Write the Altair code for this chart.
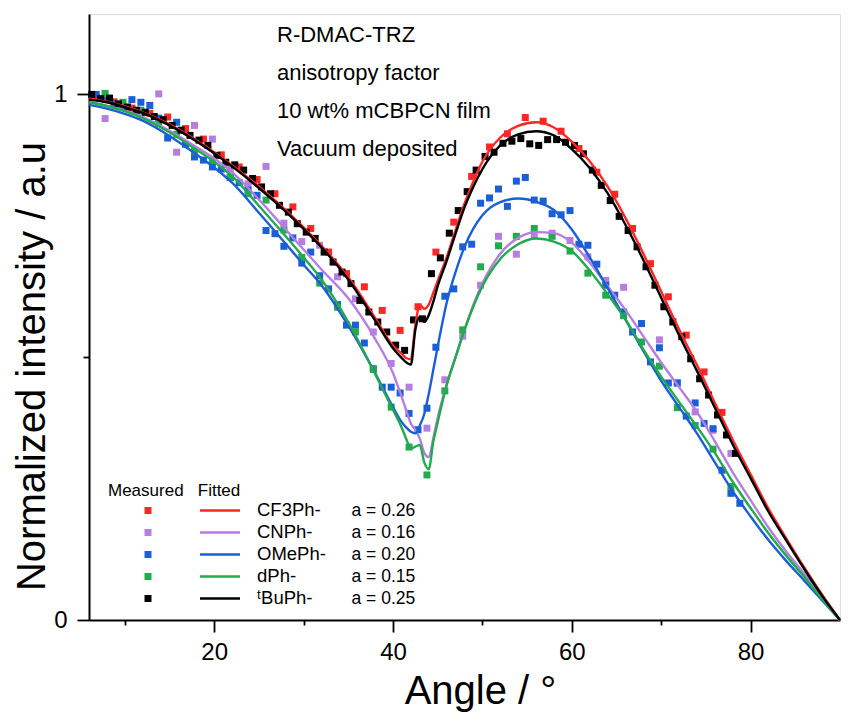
import altair as alt
import pandas as pd

FONT = "Liberation Sans, Arial, DejaVu Sans, sans-serif"

SERIES = ["CF3Ph-", "CNPh-", "OMePh-", "dPh-", "\u1d57BuPh-"]
A_LABELS = ["a = 0.26", "a = 0.16", "a = 0.20", "a = 0.15", "a = 0.25"]
COLORS = ["#FF2626", "#B57EE0", "#1A5FD8", "#22AA4C", "#000000"]

NOTES = ["R-DMAC-TRZ", "anisotropy factor", "10 wt% mCBPCN film", "Vacuum deposited"]

# ---- measured data ----
RED_X = [6.8, 8.8, 10.8, 12.8, 14.8, 16.8, 18.8, 20.8, 22.8, 24.8, 26.8, 28.8,
         30.8, 32.8, 34.8, 36.8, 38.8, 40.8, 42.8, 44.8, 46.8, 48.8, 50.8, 52.8,
         54.8, 56.8, 58.8, 60.8, 62.8, 64.8, 66.8, 68.8, 70.8, 72.8, 74.8, 76.8]
RED_Y = [0.995, 0.986, 0.974, 0.964, 0.957, 0.935, 0.915, 0.885, 0.862, 0.838, 0.811, 0.786,
         0.745, 0.700, 0.659, 0.634, 0.589, 0.551, 0.596, 0.700, 0.757, 0.844, 0.900, 0.925,
         0.956, 0.949, 0.930, 0.897, 0.852, 0.810, 0.745, 0.678, 0.615, 0.542, 0.472, 0.395]

PURPLE_X = [7.8, 9.8, 11.8, 13.8, 15.8, 17.8, 19.8, 21.8, 23.8, 25.8, 27.8, 29.8,
            31.8, 33.8, 35.8, 37.8, 39.8, 41.8, 43.8, 45.8, 47.8, 49.8, 51.8, 53.8,
            55.8, 57.8, 59.8, 61.8, 63.8, 65.8, 67.8, 69.8, 71.8, 73.8, 75.8, 77.8]
PURPLE_Y = [0.954, 0.975, 0.963, 1.001, 0.890, 0.941, 0.915, 0.858, 0.830, 0.863, 0.755, 0.720,
            0.713, 0.653, 0.611, 0.548, 0.488, 0.443, 0.365, 0.457, 0.540, 0.637, 0.730, 0.696,
            0.733, 0.736, 0.722, 0.691, 0.646, 0.633, 0.564, 0.533, 0.451, 0.396, 0.361, 0.317]

BLUE_X = [6.8, 7.8, 8.8, 9.8, 10.8, 11.8, 12.8, 13.8, 14.8, 15.8, 16.8, 17.8, 18.8, 19.8,
          20.8, 21.8, 22.8, 23.8, 24.8, 25.8, 26.8, 27.8, 28.8, 29.8, 30.8, 31.8, 32.8,
          33.8, 34.8, 35.8, 36.8, 37.8, 38.8, 39.8, 40.8, 41.8, 42.8, 43.8, 44.8, 45.8,
          46.8, 47.8, 48.8, 49.8, 50.8, 51.8, 52.8, 53.8, 54.8, 55.8, 56.8, 57.8, 58.8,
          59.8, 60.8, 61.8, 62.8, 63.8, 64.8, 65.8, 66.8, 67.8, 68.8, 69.8, 70.8, 71.8,
          72.8, 73.8, 74.8, 75.8, 76.8, 77.8, 78.8]
BLUE_Y = [1.000, 0.990, 0.982, 0.975, 0.990, 0.985, 0.979, 0.955, 0.917, 0.947, 0.905, 0.881,
          0.875, 0.862, 0.858, 0.842, 0.832, 0.818, 0.808, 0.741, 0.735, 0.711, 0.727, 0.679,
          0.700, 0.655, 0.630, 0.600, 0.561, 0.561, 0.527, 0.478, 0.443, 0.443, 0.432, 0.393,
          0.362, 0.403, 0.519, 0.616, 0.630, 0.710, 0.715, 0.793, 0.803, 0.820, 0.787, 0.835,
          0.842, 0.799, 0.797, 0.773, 0.771, 0.779, 0.715, 0.713, 0.677, 0.637, 0.618, 0.586,
          0.548, 0.564, 0.491, 0.518, 0.451, 0.451, 0.388, 0.413, 0.374, 0.364, 0.285, 0.241,
          0.222]

GREEN_X = [7.8, 9.8, 11.8, 13.8, 15.8, 17.8, 19.8, 21.8, 23.8, 25.8, 27.8, 29.8,
           31.8, 33.8, 35.8, 37.8, 39.8, 41.8, 43.8, 45.8, 47.8, 49.8, 51.8, 53.8,
           55.8, 57.8, 59.8, 61.8, 63.8, 65.8, 67.8, 69.8, 71.8, 73.8, 75.8, 77.8]
GREEN_Y = [1.002, 0.985, 0.970, 0.945, 0.924, 0.892, 0.874, 0.843, 0.811, 0.799, 0.742, 0.690,
           0.641, 0.595, 0.548, 0.477, 0.405, 0.329, 0.276, 0.436, 0.552, 0.672, 0.712, 0.730,
           0.745, 0.730, 0.702, 0.660, 0.618, 0.579, 0.529, 0.483, 0.404, 0.370, 0.325, 0.254]

BLACK_X = [6.3, 7.3, 8.3, 9.3, 10.3, 11.3, 12.3, 13.3, 14.3, 15.3, 16.3, 17.3, 18.3, 19.3,
           20.3, 21.3, 22.3, 23.3, 24.3, 25.3, 26.3, 27.3, 28.3, 29.3, 30.3, 31.3, 32.3,
           33.3, 34.3, 35.3, 36.3, 37.3, 38.3, 39.3, 40.3, 41.3, 42.3, 43.3, 44.3, 45.3,
           46.3, 47.3, 48.3, 49.3, 50.3, 51.3, 52.3, 53.3, 54.3, 55.3, 56.3, 57.3, 58.3,
           59.3, 60.3, 61.3, 62.3, 63.3, 64.3, 65.3, 66.3, 67.3, 68.3, 69.3, 70.3, 71.3,
           72.3, 73.3, 74.3, 75.3, 76.3, 77.3, 78.3]
BLACK_Y = [1.000, 0.992, 0.993, 0.982, 0.976, 0.970, 0.966, 0.958, 0.952, 0.941, 0.932, 0.922,
           0.913, 0.903, 0.884, 0.871, 0.866, 0.856, 0.840, 0.824, 0.811, 0.789, 0.776, 0.754,
           0.738, 0.726, 0.700, 0.681, 0.662, 0.640, 0.608, 0.586, 0.567, 0.548, 0.523, 0.513,
           0.571, 0.573, 0.659, 0.689, 0.736, 0.779, 0.815, 0.856, 0.882, 0.890, 0.907, 0.911,
           0.916, 0.906, 0.903, 0.914, 0.914, 0.909, 0.903, 0.887, 0.856, 0.827, 0.798, 0.768,
           0.741, 0.710, 0.672, 0.637, 0.596, 0.567, 0.539, 0.497, 0.459, 0.428, 0.390, 0.352,
           0.317]

# ---- fitted curves ----
FIT_X = [6, 8, 10, 12, 15, 18, 20, 22, 25, 28, 30, 32, 35, 38, 40, 41, 41.5, 42, 42.5, 43,
         43.5, 44, 44.5, 45, 46, 47, 48, 49, 50, 52, 54, 56, 58, 60, 62, 64, 66, 68, 70, 72,
         74, 76, 78, 80, 82, 84, 86, 88, 90]
FIT_RED = [0.992, 0.986, 0.977, 0.966, 0.943, 0.913, 0.890, 0.865, 0.825, 0.780, 0.747, 0.712,
           0.652, 0.575, 0.522, 0.506, 0.498, 0.496, 0.560, 0.600, 0.592, 0.600, 0.622, 0.645,
           0.690, 0.742, 0.792, 0.835, 0.872, 0.918, 0.940, 0.947, 0.937, 0.910, 0.873, 0.825,
           0.765, 0.697, 0.625, 0.553, 0.485, 0.413, 0.343, 0.277, 0.212, 0.155, 0.100, 0.048,
           0.000]
FIT_PURPLE = [0.985, 0.978, 0.969, 0.957, 0.931, 0.900, 0.878, 0.852, 0.800, 0.743, 0.705, 0.667,
              0.612, 0.535, 0.470, 0.423, 0.398, 0.374, 0.362, 0.345, 0.318, 0.310, 0.345, 0.385,
              0.447, 0.500, 0.552, 0.600, 0.640, 0.697, 0.727, 0.738, 0.736, 0.718, 0.680, 0.635,
              0.590, 0.540, 0.490, 0.443, 0.396, 0.340, 0.281, 0.228, 0.176, 0.130, 0.088, 0.043,
              0.000]
FIT_BLUE = [0.980, 0.973, 0.963, 0.950, 0.921, 0.886, 0.861, 0.832, 0.775, 0.716, 0.676, 0.637,
            0.560, 0.470, 0.405, 0.376, 0.366, 0.358, 0.355, 0.370, 0.392, 0.430, 0.475, 0.520,
            0.603, 0.662, 0.710, 0.745, 0.770, 0.795, 0.802, 0.796, 0.780, 0.743, 0.690, 0.632,
            0.572, 0.512, 0.455, 0.405, 0.355, 0.300, 0.245, 0.197, 0.152, 0.112, 0.075, 0.037,
            0.000]
FIT_GREEN = [0.985, 0.978, 0.968, 0.955, 0.928, 0.895, 0.872, 0.845, 0.788, 0.730, 0.690, 0.648,
             0.567, 0.468, 0.400, 0.365, 0.344, 0.326, 0.330, 0.333, 0.300, 0.287, 0.338, 0.376,
             0.447, 0.500, 0.552, 0.597, 0.635, 0.687, 0.715, 0.726, 0.720, 0.702, 0.665, 0.620,
             0.572, 0.515, 0.463, 0.415, 0.368, 0.318, 0.263, 0.213, 0.165, 0.122, 0.082, 0.040,
             0.000]
FIT_BLACK = [0.990, 0.985, 0.976, 0.965, 0.941, 0.911, 0.888, 0.863, 0.822, 0.777, 0.744, 0.709,
             0.648, 0.570, 0.517, 0.498, 0.490, 0.486, 0.552, 0.577, 0.567, 0.580, 0.605, 0.635,
             0.683, 0.735, 0.785, 0.825, 0.858, 0.903, 0.924, 0.930, 0.922, 0.896, 0.860, 0.812,
             0.752, 0.685, 0.613, 0.542, 0.474, 0.404, 0.334, 0.270, 0.206, 0.151, 0.097, 0.046,
             0.000]

MEAS = [(RED_X, RED_Y), (PURPLE_X, PURPLE_Y), (BLUE_X, BLUE_Y), (GREEN_X, GREEN_Y), (BLACK_X, BLACK_Y)]
FITS = [FIT_RED, FIT_PURPLE, FIT_BLUE, FIT_GREEN, FIT_BLACK]

meas_rows = []
for s, a, (xs, ys) in zip(SERIES, A_LABELS, MEAS):
    for xv, yv in zip(xs, ys):
        meas_rows.append({"series": s, "aval": a, "angle": xv, "intensity": yv})
meas_df = pd.DataFrame(meas_rows)

fit_rows = []
for s, ys in zip(SERIES, FITS):
    for xv, yv in zip(FIT_X, ys):
        fit_rows.append({"series": s, "angle": xv, "intensity": yv})
fit_df = pd.DataFrame(fit_rows)

x_scale = alt.Scale(domain=[6, 90], nice=False, zero=False)
y_scale = alt.Scale(domain=[0, 1.153], nice=False, zero=False)
color_scale = alt.Scale(domain=SERIES, range=COLORS)

x_axis = alt.Axis(
    values=[10, 20, 30, 40, 50, 60, 70, 80], format="d",
    labelExpr="datum.value % 20 == 0 ? datum.label : ''",
    tickSize={"condition": {"test": "datum.value % 20 != 0", "value": 5}, "value": 12},
    tickWidth=1.8, tickColor="black", labelPadding=8,
    labelFont=FONT, labelFontSize=24, labelColor="black",
    domainColor="black", domainWidth=2, grid=False,
    title="Angle / \u00b0", titleFont=FONT, titleFontSize=40, titleFontWeight="normal",
    titleColor="black", titleX=391, titleY=83, titleAlign="center", titleBaseline="alphabetic",
)
y_axis = alt.Axis(
    values=[0, 0.5, 1], format="~g",
    labelExpr="datum.value == 0.5 ? '' : datum.label",
    tickSize={"condition": {"test": "datum.value == 0.5", "value": 6}, "value": 12},
    tickWidth=1.8, tickColor="black", labelPadding=10,
    labelFont=FONT, labelFontSize=24, labelColor="black",
    domainColor="black", domainWidth=2, grid=False,
    title="Normalized intensity / a.u", titleFont=FONT, titleFontSize=40,
    titleFontWeight="normal", titleColor="black", titleX=-45, titleY=352,
    titleAlign="center", titleBaseline="alphabetic", titleAngle=270,
)

SYMBOL_PATH = "M-0.447,-0.053H-0.341V0.053H-0.447Z M0.394,-0.019H1V0.019H0.394Z"

legend_names = alt.Legend(
    title="Measured\u00a0\u00a0\u00a0Fitted", titleFont=FONT, titleFontSize=17,
    titleFontWeight="normal", titleColor="black", titlePadding=0,
    labelFont=FONT, labelFontSize=18.5, labelColor="black", labelOffset=17,
    symbolType=SYMBOL_PATH, symbolSize=17424, symbolStrokeWidth=0, symbolOpacity=1,
    clipHeight=21.5, rowPadding=0, padding=0,
    orient="none", legendX=19, legendY=468.7,
)
legend_avals = alt.Legend(
    title=None, labelFont=FONT, labelFontSize=17.5, labelColor="black", labelOffset=0,
    symbolSize=462, symbolOpacity=0, symbolStrokeWidth=0,
    clipHeight=21.5, rowPadding=0, padding=0,
    orient="none", legendX=240.5, legendY=486,
)

points = alt.Chart(meas_df).mark_point(filled=True, size=49, opacity=1, strokeWidth=0).encode(
    x=alt.X("angle:Q", scale=x_scale, axis=x_axis),
    y=alt.Y("intensity:Q", scale=y_scale, axis=y_axis),
    color=alt.Color("series:N", scale=color_scale, legend=legend_names),
    shape=alt.Shape("aval:N", scale=alt.Scale(domain=A_LABELS, range=["square"] * 5),
                    legend=legend_avals),
)

lines = alt.Chart(fit_df).mark_line(interpolate="monotone", strokeWidth=2.4).encode(
    x=alt.X("angle:Q", scale=x_scale),
    y=alt.Y("intensity:Q", scale=y_scale),
    color=alt.Color("series:N", scale=color_scale, legend=None),
)

notes = alt.Chart(pd.DataFrame({"k": [0]})).mark_text(
    text=NOTES, lineHeight=38, align="left", baseline="alphabetic",
    font=FONT, fontSize=22, color="black",
).encode(x=alt.value(188), y=alt.value(28.3))

chart = alt.layer(points, lines, notes).properties(
    width=751, height=606,
    autosize=alt.AutoSizeParams(type="none"),
    padding={"left": 81, "top": 6, "right": 7, "bottom": 98},
).configure_view(stroke="black", strokeWidth=2).configure(font=FONT)

chart.save("out.html", embed_options={"renderer": "svg", "actions": False})
